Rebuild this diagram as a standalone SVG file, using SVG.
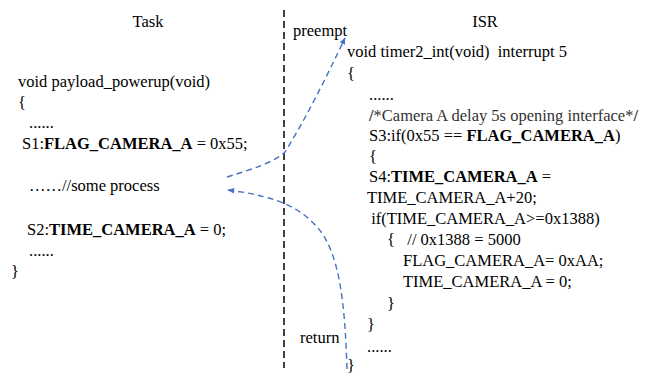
<svg xmlns="http://www.w3.org/2000/svg" width="657" height="375" viewBox="0 0 657 375">
<style>
text{font-family:"Liberation Serif","Times New Roman",serif;font-size:16.5px;fill:#000;white-space:pre}
.b{font-weight:bold}
.c{fill:#333}
.curve{fill:none;stroke:#4472C4;stroke-width:1.4;stroke-dasharray:6 4}
.div{stroke:#000;stroke-width:1.5;stroke-dasharray:7 4}
</style>
<defs>
<marker id="ah" viewBox="0 0 10 10" refX="9" refY="5" markerWidth="7" markerHeight="7" orient="auto" markerUnits="userSpaceOnUse">
<path d="M0,1 L10,5 L0,9 z" fill="#4472C4"/>
</marker>
</defs>
<rect width="657" height="375" fill="#fff"/>
<line class="div" x1="284" y1="10" x2="284" y2="368"/>
<g id="task">
<text x="148" y="27" text-anchor="middle">Task</text>
<text x="18" y="87">void payload_powerup(void)</text>
<text x="18" y="108">{</text>
<text x="29" y="128">......</text>
<text x="22" y="149">S1:<tspan class="b">FLAG_CAMERA_A</tspan> = 0x55;</text>
<text x="29" y="191">……//some process</text>
<text x="27" y="235">S2:<tspan class="b">TIME_CAMERA_A</tspan> = 0;</text>
<text x="29" y="256">......</text>
<text x="11" y="277">}</text>
</g>
<g id="isr">
<text x="485" y="27" text-anchor="middle">ISR</text>
<text x="293" y="36">preempt</text>
<text x="347" y="57">void timer2_int(void)  interrupt 5</text>
<text x="347" y="79">{</text>
<text x="369" y="100">......</text>
<text x="369" y="121" class="c"><tspan class="b">/</tspan>*Camera A delay 5s opening interface*<tspan class="b">/</tspan></text>
<text x="369" y="141">S3:if(0x55 == <tspan class="b">FLAG_CAMERA_A</tspan>)</text>
<text x="369" y="162">{</text>
<text x="369" y="182">S4:<tspan class="b">TIME_CAMERA_A</tspan> =</text>
<text x="367" y="203">TIME_CAMERA_A+20;</text>
<text x="367" y="224"> if(TIME_CAMERA_A&gt;=0x1388)</text>
<text x="387" y="245">{   // 0x1388 = 5000</text>
<text x="403" y="266">FLAG_CAMERA_A= 0xAA;</text>
<text x="403" y="287">TIME_CAMERA_A = 0;</text>
<text x="387" y="309">}</text>
<text x="367" y="330">}</text>
<text x="300" y="343">return</text>
<text x="367" y="352">......</text>
<text x="347" y="371">}</text>
</g>
<g id="connectors">
<path id="preempt-arrow" class="curve" marker-end="url(#ah)" d="M227,177 C250,170 275,162 285,152 C305,120 325,80 345,38"/>
<path id="return-arrow" class="curve" marker-end="url(#ah)" d="M347,369 C345,310 341,255 318,228 C302,210 282,197 228,190"/>
</g>
</svg>
